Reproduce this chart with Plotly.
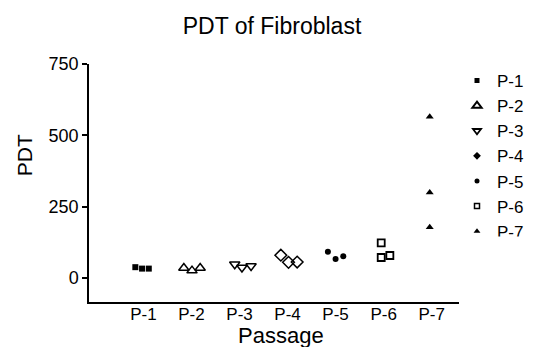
import plotly.graph_objects as go

categories = ["P-1", "P-2", "P-3", "P-4", "P-5", "P-6", "P-7"]
pdt_values = [
    [38, 33, 33],
    [35, 26, 35],
    [48, 37, 42],
    [80, 55, 56],
    [92, 67, 76],
    [123, 72, 79],
    [565, 300, 178],
]
# horizontal scatter (jitter) of the replicate points within each column, in category units
jitter = [
    [-0.17, -0.03, 0.11],
    [-0.16, 0.01, 0.18],
    [-0.10, 0.05, 0.24],
    [-0.14, 0.02, 0.20],
    [-0.16, 0.0, 0.16],
    [-0.05, -0.05, 0.13],
    [-0.04, -0.04, -0.04],
]
y_ticks = [0, 250, 500, 750]

data_markers = [
    dict(symbol="square", size=6, color="black"),
    dict(symbol="triangle-up-open", size=9, color="black", line=dict(width=1.5)),
    dict(symbol="triangle-down-open", size=9, color="black", line=dict(width=1.5)),
    dict(symbol="diamond-open", size=9, color="black", line=dict(width=1.5)),
    dict(symbol="circle", size=6, color="black"),
    dict(symbol="square-open", size=7, color="black", line=dict(width=1.8)),
    dict(symbol="triangle-up", size=7, color="black"),
]
legend_markers = [
    dict(symbol="square", size=5, color="black"),
    dict(symbol="triangle-up-open", size=8, color="black", line=dict(width=2)),
    dict(symbol="triangle-down-open", size=7, color="black", line=dict(width=1.8)),
    dict(symbol="diamond", size=6, color="black"),
    dict(symbol="circle", size=5, color="black"),
    dict(symbol="square-open", size=5, color="black", line=dict(width=1.5)),
    dict(symbol="triangle-up", size=6, color="black"),
]

fig = go.Figure()
for i, cat in enumerate(categories):
    xs = [i + j for j in jitter[i]]
    fig.add_trace(go.Scatter(x=xs, y=pdt_values[i], mode="markers", name=cat,
                             marker=data_markers[i], showlegend=False, hoverinfo="y"))
for i, cat in enumerate(categories):
    fig.add_trace(go.Scatter(x=[None], y=[None], mode="markers", name=cat,
                             marker=legend_markers[i], showlegend=True))

font_family = "Liberation Sans, Arial, sans-serif"
fig.update_layout(
    width=536, height=347,
    margin=dict(l=81, r=85, t=56, b=53, autoexpand=False),
    paper_bgcolor="white", plot_bgcolor="white",
    font=dict(family=font_family, color="black", size=17),
    title=dict(text="PDT of Fibroblast", x=0.4946, xref="paper", xanchor="center",
               y=1 - 18 / 347, yref="container", yanchor="middle",
               font=dict(size=23, family=font_family, color="black")),
    showlegend=True,
    legend=dict(xref="container", yref="container", x=449 / 536, xanchor="left",
                y=1 - 55 / 347, yanchor="top",
                font=dict(size=17, family=font_family), bgcolor="rgba(0,0,0,0)",
                itemsizing="trace", tracegroupgap=0),
    xaxis=dict(range=[-1.135, 6.57], tickmode="array", tickvals=list(range(len(categories))),
               ticktext=categories, showgrid=False, zeroline=False, showline=True,
               linecolor="black", linewidth=1.5, ticks="", tickfont=dict(size=17),
               ticklabelstandoff=-4),
    yaxis=dict(range=[-84, 750], tickmode="array", tickvals=y_ticks, showgrid=False,
               zeroline=False, showline=True, linecolor="black", linewidth=1.5,
               ticks="outside", ticklen=5, tickwidth=1.5, tickcolor="black",
               tickfont=dict(size=18)),
    annotations=[
        dict(text="Passage", xref="paper", yref="paper", x=(272.5 - 81) / 370,
             y=(294 - 328) / 238.3, xanchor="center", yanchor="middle",
             showarrow=False, font=dict(size=22, family=font_family)),
        dict(text="PDT", xref="paper", yref="paper", x=(16 - 81) / 370,
             y=(294 - 147) / 238.3, xanchor="center", yanchor="middle", textangle=-90,
             showarrow=False, font=dict(size=21, family=font_family)),
    ],
)

fig.write_html("out.html")
